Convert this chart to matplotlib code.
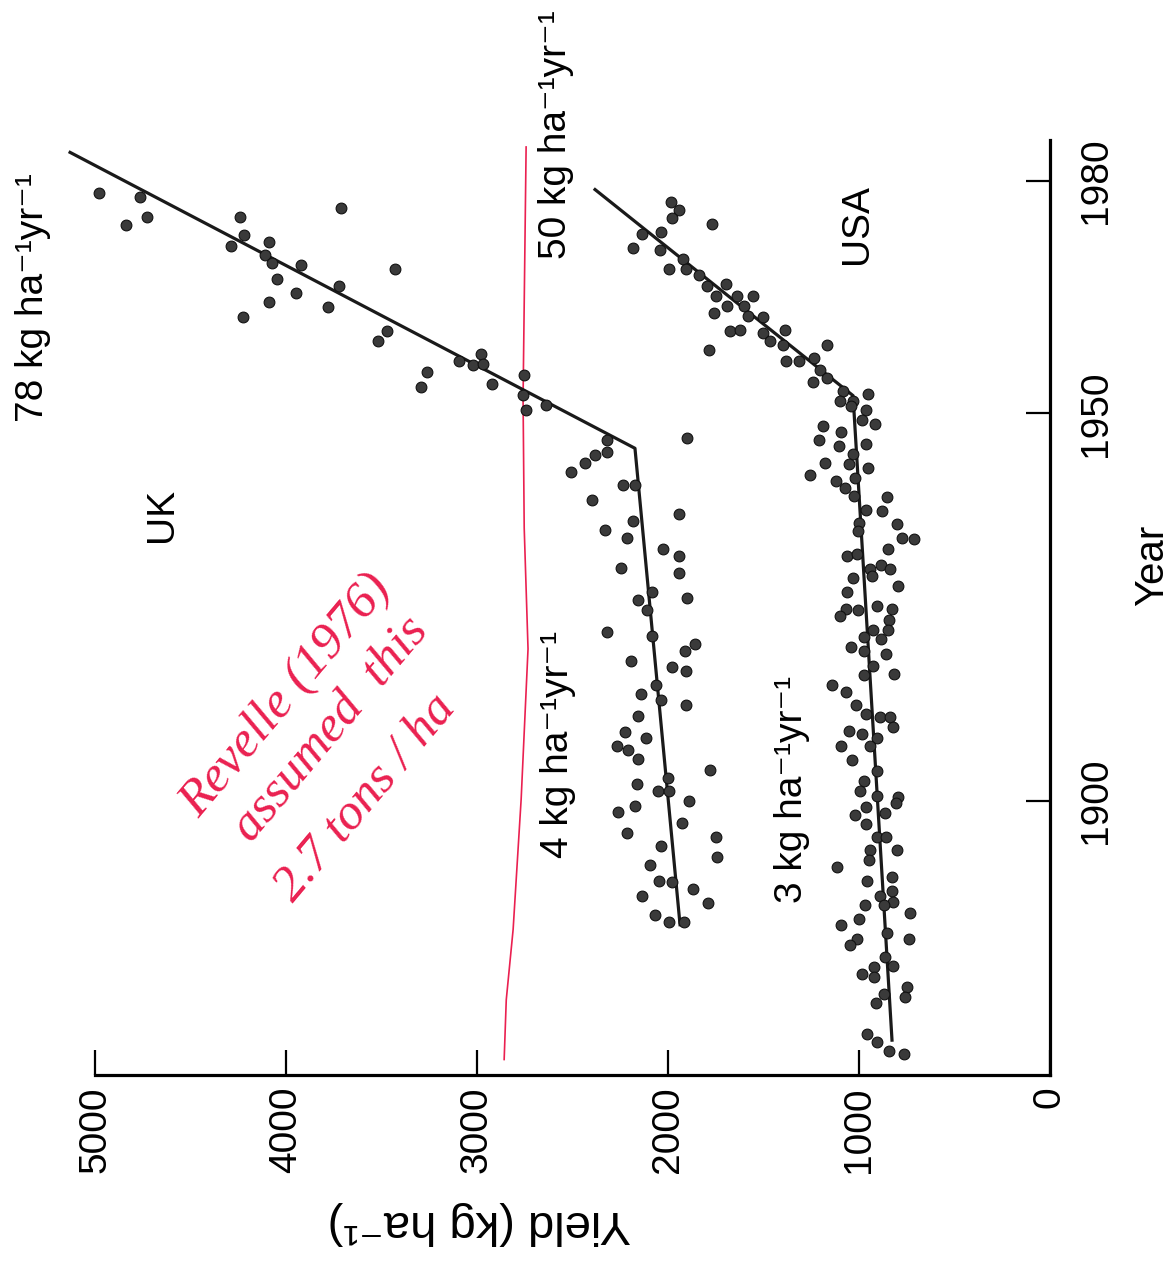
import matplotlib
matplotlib.use("Agg")
import matplotlib.pyplot as plt

plt.rcParams["font.family"] = ["Liberation Sans", "DejaVu Sans"]

# UK wheat yields (year, kg/ha)
uk_year = [1978.4, 1977.9, 1974.3, 1975.3, 1975.3, 1973.0, 1971.6, 1972.1, 1970.5, 1969.4,
           1976.5, 1969.1, 1967.4, 1965.5, 1964.4, 1962.4, 1968.7, 1966.4, 1963.8, 1960.6,
           1959.3, 1955.4, 1953.4, 1956.8, 1957.7, 1956.2, 1956.4, 1953.8, 1954.9, 1952.4,
           1950.5, 1951.1, 1946.8, 1946.6, 1945.0, 1944.6, 1943.6, 1942.4, 1940.8, 1940.8,
           1938.8, 1937.0, 1936.1, 1934.9, 1933.9, 1932.5, 1931.6, 1930.1, 1929.4, 1925.9,
           1927.0, 1924.6, 1926.2, 1921.8, 1921.3, 1920.3, 1919.3, 1918.0, 1917.3, 1916.7,
           1915.0, 1913.8, 1913.0, 1912.4, 1911.0, 1908.9, 1908.1, 1907.1, 1906.6, 1905.4,
           1904.0, 1902.9, 1901.3, 1901.3, 1902.2, 1900.0, 1899.3, 1898.5, 1897.1, 1895.9,
           1895.3, 1894.1, 1892.7, 1891.7, 1889.6, 1889.5, 1887.7, 1888.6, 1886.8, 1885.2,
           1884.3, 1884.3]
uk_yield = [4980, 4765, 4838, 4728, 4241, 4220, 4288, 4089, 4110, 4074,
            3712, 3922, 4047, 3948, 4089, 4225, 3430, 3723, 3780, 3471,
            3519, 3262, 3293, 3094, 2979, 3021, 2969, 2922, 2754, 2759,
            2744, 2639, 1901, 2320, 2320, 2382, 2435, 2508, 2236, 2173,
            2398, 1943, 2183, 2330, 2215, 2026, 1943, 2246, 1943, 2157,
            2084, 2110, 1901, 2320, 2084, 1859, 1911, 2194, 1979, 1906,
            2063, 2142, 2037, 1906, 2157, 2225, 2115, 2267, 2210, 2157,
            1780, 2000, 2053, 1995, 2162, 1890, 2173, 2262, 1927, 2215,
            1749, 2037, 1744, 2094, 2047, 1979, 2136, 1869, 1791, 2068,
            1995, 1916]

# USA wheat yields
usa_year = [1977.3, 1976.2, 1975.2, 1974.4, 1973.1, 1973.4, 1971.3, 1971.1, 1969.9, 1968.7,
            1968.7, 1967.9, 1966.4, 1966.7, 1965.2, 1965.2, 1965.1, 1963.9, 1963.9, 1963.0,
            1962.6, 1962.4, 1960.7, 1960.8, 1960.4, 1960.8, 1959.4, 1958.8, 1958.2, 1958.8,
            1956.8, 1956.8, 1957.2, 1955.6, 1954.1, 1954.6, 1952.9, 1952.5, 1951.6, 1951.6,
            1950.9, 1950.5, 1949.2, 1948.7, 1948.4, 1947.6, 1946.6, 1946.1, 1945.8, 1944.8,
            1943.6, 1943.5, 1943.0, 1942.0, 1941.3, 1940.4, 1941.7, 1939.3, 1939.2, 1937.6,
            1937.4, 1935.7, 1935.8, 1934.8, 1933.9, 1933.8, 1932.5, 1931.6, 1931.8, 1930.5,
            1929.9, 1929.9, 1929.0, 1928.7, 1927.7, 1927.0, 1925.2, 1924.8, 1924.6, 1924.8,
            1923.8, 1923.4, 1922.0, 1922.0, 1921.1, 1920.9, 1919.9, 1919.3, 1918.9, 1917.4,
            1916.3, 1916.4, 1915.0, 1914.1, 1912.3, 1911.2, 1910.8, 1910.8, 1909.5, 1909.0,
            1908.6, 1908.1, 1907.1, 1907.1, 1905.3, 1903.8, 1902.5, 1901.3, 1900.6, 1900.5,
            1899.7, 1899.2, 1898.4, 1898.1, 1897.0, 1895.3, 1895.3, 1893.7, 1893.7, 1892.4,
            1891.5, 1890.2, 1889.6, 1888.3, 1887.7, 1886.9, 1886.5, 1886.6, 1885.5, 1884.7,
            1883.9, 1882.2, 1881.4, 1882.9, 1882.1, 1879.8, 1878.7, 1878.6, 1877.6, 1877.2,
            1875.1, 1873.9, 1875.9, 1874.7, 1869.9, 1868.9, 1867.7, 1867.3]
usa_yield = [1984, 1943, 1979, 1770, 2136, 2037, 2183, 2042, 1922, 1995,
             1906, 1838, 1796, 1696, 1749, 1639, 1555, 1602, 1691, 1759,
             1581, 1503, 1676, 1623, 1503, 1388, 1466, 1398, 1785, 1168,
             1382, 1314, 1236, 1204, 1241, 1168, 1084, 953, 1100, 1031,
             1042, 963, 984, 916, 1189, 1094, 1210, 963, 1105, 1031,
             1178, 1052, 953, 1257, 1121, 1073, 1021, 1026, 853, 963,
             880, 801, 1000, 1005, 775, 712, 848, 1063, 1011, 885,
             838, 942, 932, 1031, 796, 1063, 906, 1068, 1005, 827,
             1100, 843, 927, 848, 974, 885, 1042, 974, 859, 927,
             974, 817, 1141, 1068, 1016, 963, 890, 838, 822, 1052,
             984, 906, 1094, 942, 1037, 906, 974, 995, 906, 796,
             806, 963, 864, 1021, 963, 906, 859, 942, 801, 948,
             1115, 827, 958, 827, 890, 822, 969, 869, 733, 1000,
             1094, 1011, 1047, 853, 738, 864, 822, 922, 984, 922,
             869, 911, 749, 759, 958, 906, 843, 764]

# fitted trend segments
uk_fit_year = [1884.0, 1945.5, 1983.7]
uk_fit_yield = [1937, 2173, 5131]
usa_fit_year = [1869.1, 1952.3, 1978.9]
usa_fit_yield = [827, 1031, 2382]

# hand-drawn red line (Revelle's 2.7 t/ha)
red_year = [1866.6, 1874.3, 1883.4, 1900.2, 1919.6, 1935.2, 1952.0, 1984.4]
red_yield = [2858, 2847, 2811, 2769, 2733, 2753, 2759, 2743]

yield_ticks = [0, 1000, 2000, 3000, 4000, 5000]
year_ticks = [1900, 1950, 1980]

RED = "#ea2050"
FS = 28

fig = plt.figure(figsize=(11.76, 12.68), dpi=100)
ax = fig.add_axes([0.0510, 0.1522, 0.8418, 0.7374])
ax.set_xlim(5184, 0)
ax.set_ylim(1864.6, 1985.3)

ax.plot(red_yield, red_year, color=RED, lw=1.2, zorder=1)
ax.plot(uk_fit_yield, uk_fit_year, color="#1a1a1a", lw=2.3, zorder=2, clip_on=False)
ax.plot(usa_fit_yield, usa_fit_year, color="#1a1a1a", lw=2.3, zorder=2, clip_on=False)
ax.scatter(uk_yield, uk_year, s=60, color="#3a3a3a", edgecolor="#111111", lw=0.8, zorder=3)
ax.scatter(usa_yield, usa_year, s=60, color="#3a3a3a", edgecolor="#111111", lw=0.8, zorder=3)

for side in ["left", "top"]:
    ax.spines[side].set_visible(False)
ax.spines["bottom"].set_bounds(0, 5000)
ax.spines["bottom"].set_linewidth(2.3)
ax.spines["right"].set_linewidth(2.3)

ax.yaxis.tick_right()
ax.set_xticks(yield_ticks)
ax.set_xticklabels([str(v) for v in yield_ticks])
ax.set_yticks(year_ticks)
ax.set_yticklabels([str(v) for v in year_ticks])
ax.tick_params(axis="x", direction="in", length=18, width=1.6, pad=8,
               labelsize=FS, labelrotation=90)
ax.tick_params(axis="y", direction="in", length=17, width=1.6, pad=20,
               labelsize=FS, labelrotation=90)
for lab in ax.get_yticklabels():
    lab.set_verticalalignment("center")

fig.text(0.980, 0.554, "Year", rotation=90, fontsize=FS + 1, ha="center", va="center")
fig.text(0.408, 0.0355, "Yield (kg ha\u207b\u00b9)", rotation=180, fontsize=34,
         ha="center", va="center")

rate_kw = dict(rotation=90, fontsize=FS, ha="center", va="center", clip_on=False)
ax.text(5325, 1964.9, "78 kg ha\u207b\u00b9yr\u207b\u00b9", **rate_kw)
ax.text(2587, 1986.0, "50 kg ha\u207b\u00b9yr\u207b\u00b9", **rate_kw)
ax.text(2576, 1907.3, "4 kg ha\u207b\u00b9yr\u207b\u00b9", **rate_kw)
ax.text(1351, 1901.5, "3 kg ha\u207b\u00b9yr\u207b\u00b9", **rate_kw)
ax.text(4650, 1936.9, "UK", **rate_kw)
ax.text(1011, 1974.5, "USA", **rate_kw)

note_kw = dict(rotation=50, rotation_mode="anchor", fontsize=37, color=RED,
               ha="center", va="center", family="Liberation Serif", style="italic")
ax.text(4000, 1913.6, "Revelle (1976)", **note_kw)
ax.text(3765, 1909.2, "assumed  this", **note_kw)
ax.text(3585, 1900.3, "2.7 tons / ha", **note_kw)

fig.savefig("out.png", dpi=100)
